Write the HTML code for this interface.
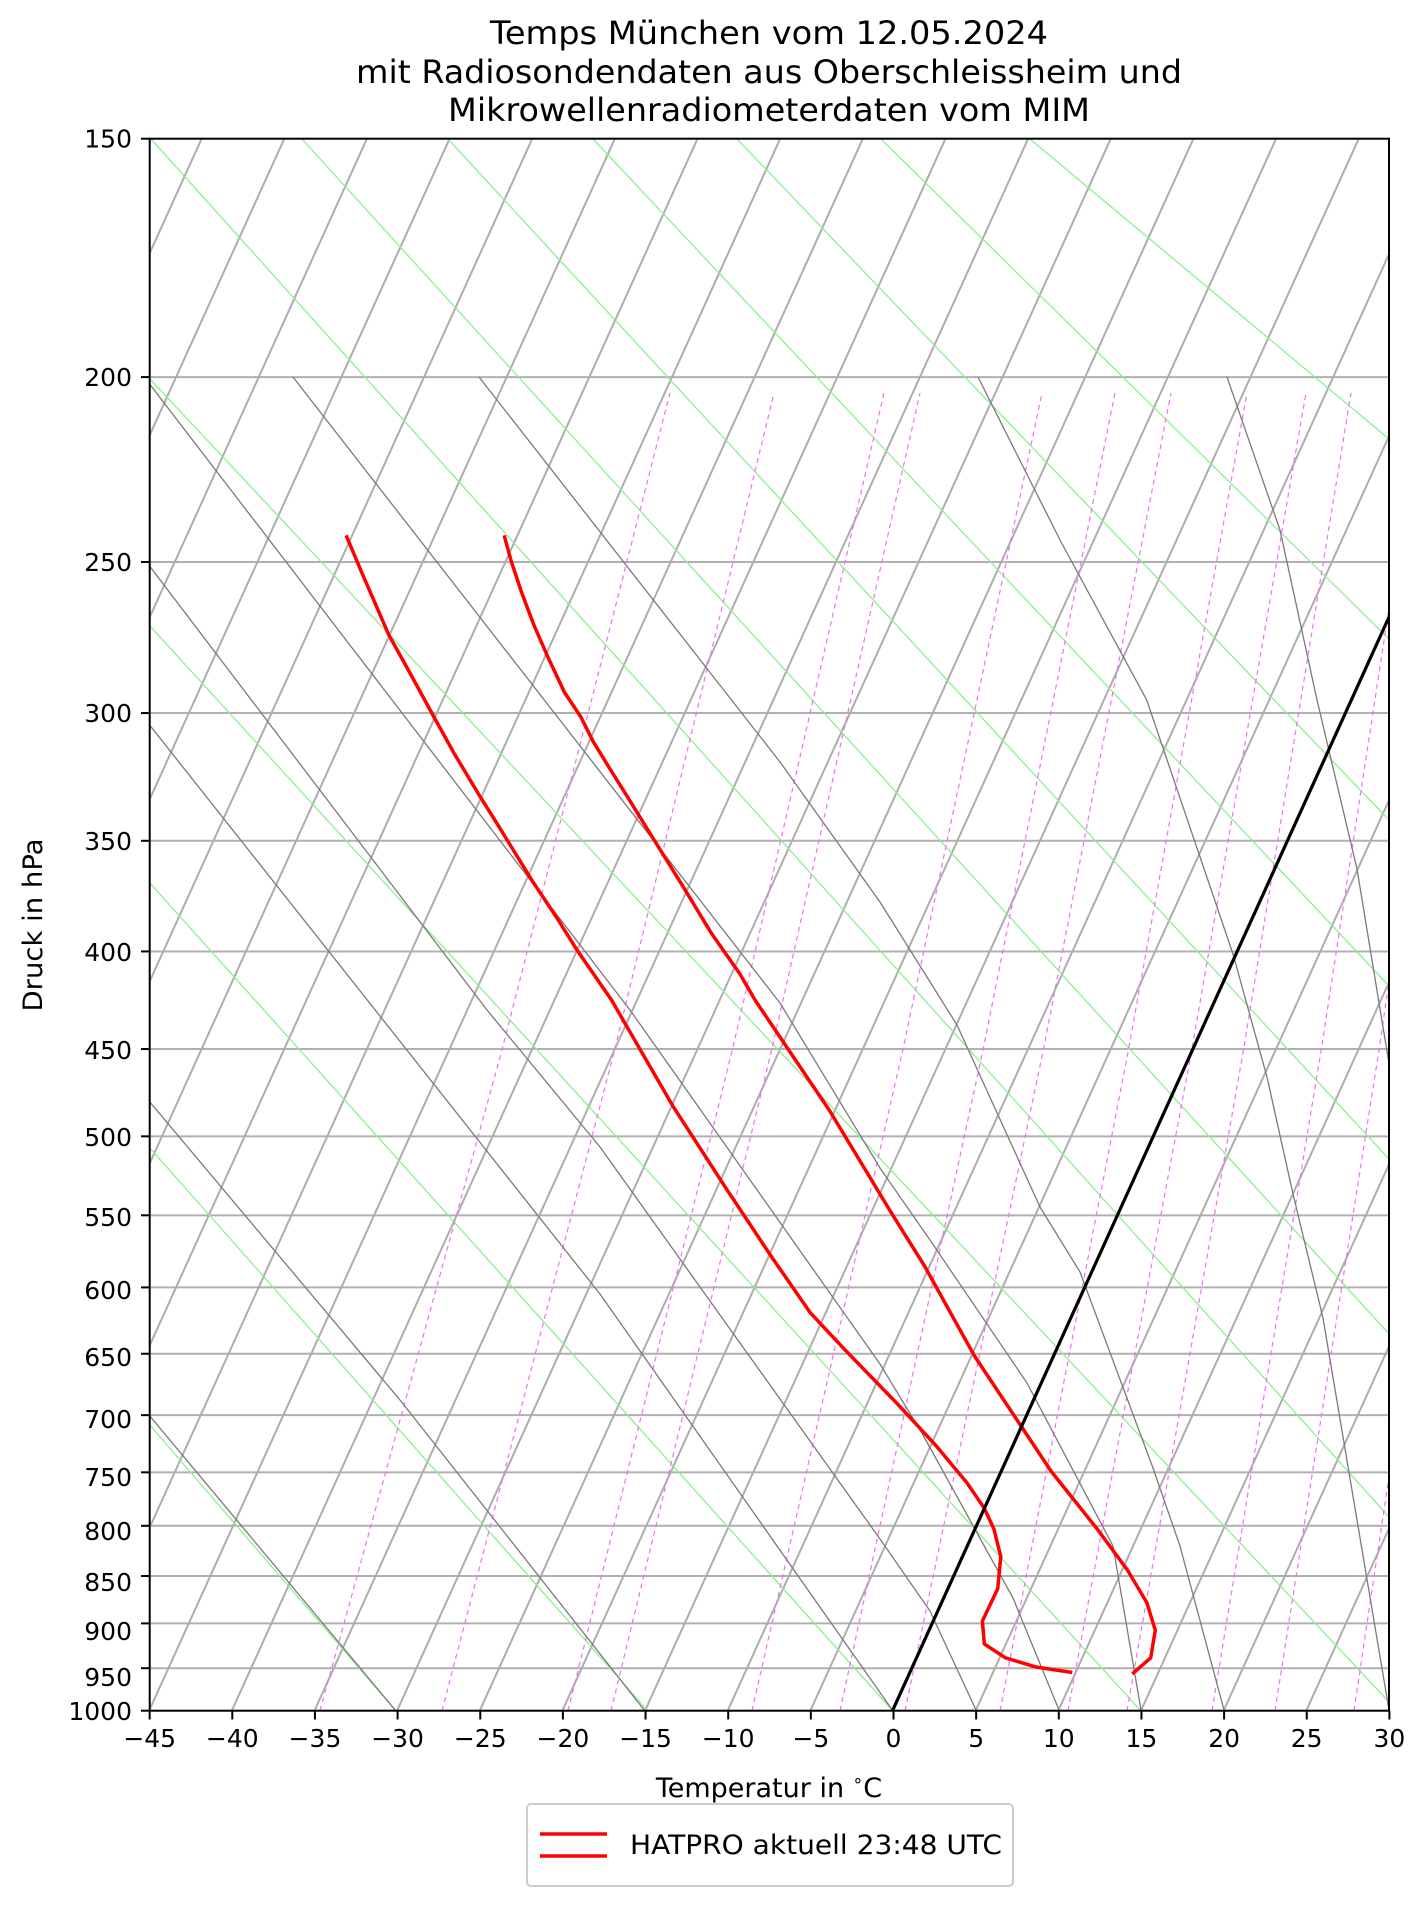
<!DOCTYPE html>
<html><head><meta charset="utf-8"><style>
html,body{margin:0;padding:0;background:#fff;}
svg{display:block;font-family:"DejaVu Sans","Liberation Sans",sans-serif;}
</style></head><body>
<svg id="s" width="1427" height="1907" viewBox="0 0 1427 1907" xmlns="http://www.w3.org/2000/svg">
<defs><clipPath id="c"><rect x="149.7" y="138.7" width="1239.3" height="1572"/></clipPath></defs>
<rect width="1427" height="1907" fill="#fff"/>
<g id="grid" clip-path="url(#c)"></g>
<g clip-path="url(#c)" fill="none" stroke-linejoin="round" stroke-linecap="butt">
<polyline stroke="#ff0000" stroke-width="3.5" points="346.1,535.3 362.4,574.1 389,635.3 409.4,672 433.9,716.9 454.3,753.7 478.8,794.5 499.2,827.1 531.8,880.2 556.3,917 576.7,949.6 611.5,1000 672.7,1105.8 726.2,1188.6 772.1,1257.6 810.3,1312.8 844.7,1349.6 898.3,1404.8 936.5,1446.2 967.1,1483 984.3,1508.3 993.9,1529 1000.8,1556.6 997.7,1588.8 982.4,1621 984.3,1644 1005.4,1657.8 1036,1667 1072.3,1672.5"/>
<polyline stroke="#ff0000" stroke-width="3.5" points="504.1,535.3 511.4,561.8 521.6,592.4 533.9,625.1 548.2,657.8 564.5,692.4 580.8,716.9 593.1,741.4 609.4,768 629.8,800.6 656.3,843.5 682.9,886.3 711.4,933.3 740,974.1 755,1000 829.4,1110.4 890.6,1211.6 925,1266.8 955.6,1322 974.8,1356.5 1020.7,1425.5 1051.3,1471.5 1097.2,1529 1127.7,1570.4 1146.8,1602.6 1155.3,1630.2 1150.7,1657.8 1132.3,1673.9"/>
<line x1="892.5" y1="1710.7" x2="1389" y2="617" stroke="#000" stroke-width="3.2"/>
</g>
<rect x="149.7" y="138.7" width="1239.3" height="1572" fill="none" stroke="#000" stroke-width="2"/>
<g id="ticks" stroke="#000" stroke-width="2"></g>
<g font-size="25" fill="#000" text-anchor="end" id="ylab">
<text x="132" y="147.7">150</text><text x="132" y="386">200</text><text x="132" y="571">250</text><text x="132" y="722">300</text><text x="132" y="850">350</text><text x="132" y="961">400</text><text x="132" y="1059">450</text><text x="132" y="1146">500</text><text x="132" y="1226">550</text><text x="132" y="1299">600</text><text x="132" y="1366">650</text><text x="132" y="1428">700</text><text x="132" y="1486">750</text><text x="132" y="1540">800</text><text x="132" y="1591">850</text><text x="132" y="1640">900</text><text x="132" y="1686">950</text><text x="132" y="1720">1000</text>
</g>
<g font-size="25" fill="#000" text-anchor="middle">
<text x="149.7" y="1747">−45</text><text x="232.3" y="1747">−40</text><text x="315" y="1747">−35</text><text x="397.6" y="1747">−30</text><text x="480.3" y="1747">−25</text><text x="562.9" y="1747">−20</text><text x="645.6" y="1747">−15</text><text x="728.2" y="1747">−10</text><text x="810.9" y="1747">−5</text><text x="893.5" y="1747">0</text><text x="976.2" y="1747">5</text><text x="1058.8" y="1747">10</text><text x="1141.4" y="1747">15</text><text x="1224.1" y="1747">20</text><text x="1306.7" y="1747">25</text><text x="1389.4" y="1747">30</text>
</g>
<text x="769" y="1797" font-size="27" text-anchor="middle">Temperatur in <tspan font-size="17" dy="-11">∘</tspan><tspan dy="11">C</tspan></text>
<text x="0" y="0" font-size="27" text-anchor="middle" transform="translate(42,925) rotate(-90)" textLength="173" lengthAdjust="spacingAndGlyphs">Druck in hPa</text>
<g font-size="32" text-anchor="middle" fill="#000">
<text x="769" y="44" textLength="558" lengthAdjust="spacingAndGlyphs">Temps München vom 12.05.2024</text>
<text x="769" y="83" textLength="826" lengthAdjust="spacingAndGlyphs">mit Radiosondendaten aus Oberschleissheim und</text>
<text x="769" y="121" textLength="642" lengthAdjust="spacingAndGlyphs">Mikrowellenradiometerdaten vom MIM</text>
</g>
<rect x="527" y="1804" width="486" height="82" rx="4" fill="#fff" stroke="#cccccc" stroke-width="2"/>
<line x1="540" y1="1834" x2="607" y2="1834" stroke="#f00" stroke-width="3.5"/>
<line x1="540" y1="1856" x2="607" y2="1856" stroke="#f00" stroke-width="3.5"/>
<text x="630" y="1854" font-size="27" textLength="372" lengthAdjust="spacingAndGlyphs">HATPRO aktuell 23:48 UTC</text>
<script>
(function(){
var NS="http://www.w3.org/2000/svg",g=document.getElementById("grid"),tk=document.getElementById("ticks");
function Y(p){return 1710.7-1572*Math.log(1000/p)/1.89712;}
function X(T,y){return 893+16.53*T+0.454*(1710.7-y);}
function L(par,x1,y1,x2,y2,st,w,da){var e=document.createElementNS(NS,"line");e.setAttribute("x1",x1);e.setAttribute("y1",y1);e.setAttribute("x2",x2);e.setAttribute("y2",y2);e.setAttribute("stroke",st);e.setAttribute("stroke-width",w);if(da)e.setAttribute("stroke-dasharray",da);par.appendChild(e);}
function P(pts,st,w,da){var e=document.createElementNS(NS,"polyline");e.setAttribute("points",pts.map(function(q){return q.join(",");}).join(" "));e.setAttribute("fill","none");e.setAttribute("stroke",st);e.setAttribute("stroke-width",w);e.setAttribute("stroke-linejoin","round");if(da)e.setAttribute("stroke-dasharray",da);g.appendChild(e);}
for(var p=200;p<=950;p+=50){var y=Y(p);L(g,149.7,y,1389,y,"#b0b0b0",2);}
for(var T=-110;T<=30;T+=5){L(g,X(T,1710.7),1710.7,X(T,138.7),138.7,"#adadad",2);}
var G=[[149,1424,396,1711],[149,1147,648,1711],[149,882,893,1711],[149,625,1141,1711],[149,378,1389,1702],[151,139,1389,1517],[302,139,1389,1334],[448,139,1389,1159],[593,139,1389,986],[737,139,1389,820],[881,139,1389,639],[1030,139,1389,439]];
G.forEach(function(a){var dx=a[2]-a[0],dy=a[3]-a[1];L(g,a[0]-dx*0.2,a[1]-dy*0.2,a[2]+dx*0.2,a[3]+dy*0.2,"#90ee90",1.3);});
var M=[[320,670],[442,774],[568,884],[611,920],[752,1042],[840,1115],[905,1171],[1000,1247],[1068,1306],[1127,1351],[1212,1422],[1275,1475],[1354,1544]];
M.forEach(function(a){P([[a[0],1710.7],[a[0]+(a[1]-a[0])*0.52,1050],[a[1],393]],"#f070f0",1.2,"5,4");});
var D=[
[[149,1415],[396,1711]],
[[149,1101],[400,1400],[645,1711]],
[[148,723],[600,1294],[893,1711]],
[[148,564],[487,1010],[600,1147],[880,1539],[930,1611],[976,1710]],
[[148,382],[630,1010],[880,1364],[923,1435],[1013,1598],[1059,1710]],
[[293,377],[780,1003],[880,1168],[930,1240],[1027,1383],[1113,1546],[1141,1710]],
[[479,377],[780,762],[880,902],[957,1025],[1040,1207],[1080,1272],[1153,1468],[1180,1546],[1224,1710]],
[[978,377],[1060,540],[1146.7,700],[1233,954],[1267,1077],[1293,1194],[1323,1318],[1389,1710]],
[[1227,377],[1280,530],[1317,700],[1357,869],[1395,1100]]];
D.forEach(function(d){P(d,"#7a7a7a",1.3);});
var pl=[150,200,250,300,350,400,450,500,550,600,650,700,750,800,850,900,950,1000];
pl.forEach(function(p){var y=Y(p);L(tk,141,y,149.7,y,"#000",2);});
for(var T=-45;T<=30;T+=5){var x=893.5+16.53*T;L(tk,x,1710.7,x,1719.5,"#000",2);}
})();
</script>
</svg>
</body></html>
